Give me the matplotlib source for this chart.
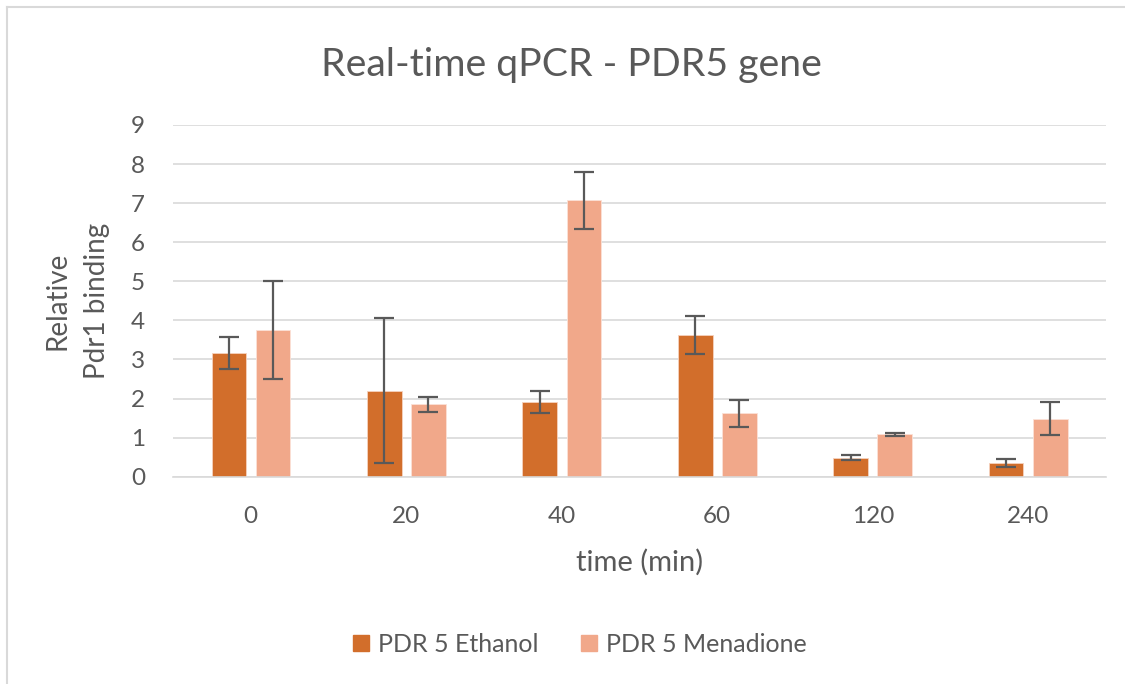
import numpy as np
import matplotlib.pyplot as plt
from matplotlib.patches import Rectangle
from matplotlib.lines import Line2D

plt.rcParams['font.family'] = ['Lato', 'DejaVu Sans']

times = ['0', '20', '40', '60', '120', '240']
ethanol = [3.17, 2.20, 1.92, 3.63, 0.49, 0.34]
ethanol_err = [0.41, 1.85, 0.28, 0.48, 0.07, 0.10]
menadione = [3.75, 1.85, 7.07, 1.62, 1.08, 1.48]
menadione_err = [1.25, 0.20, 0.72, 0.34, 0.03, 0.42]

c_eth = '#D26E2B'
c_men = '#F1A88A'
txt = '#595959'

fig = plt.figure(figsize=(11.25, 6.84), dpi=100)
ax = fig.add_axes([0.1538, 0.3031, 0.8293, 0.5142])

x = np.arange(len(times))
w = 0.222
off = 0.1415
ax.bar(x - off, ethanol, w, color=c_eth, edgecolor='#F6D2BE', linewidth=0.6,
       yerr=ethanol_err, error_kw=dict(ecolor=txt, elinewidth=1.6, capsize=7, capthick=1.6))
ax.bar(x + off, menadione, w, color=c_men, edgecolor='#FBE1D6', linewidth=0.6,
       yerr=menadione_err, error_kw=dict(ecolor=txt, elinewidth=1.6, capsize=7, capthick=1.6))

ax.set_xlim(-0.5, len(times) - 0.5)
ax.set_ylim(0, 9)
ax.set_yticks(range(10))
ax.set_xticks(x)
ax.set_xticklabels(times)
ax.yaxis.grid(True, color='#D9D9D9', linewidth=1.2)
ax.set_axisbelow(True)
for s in ['top', 'right', 'left']:
    ax.spines[s].set_visible(False)
ax.spines['bottom'].set_color('#D9D9D9')
ax.spines['bottom'].set_linewidth(1.2)
ax.tick_params(axis='both', length=0, labelsize=17.5, colors=txt)
ax.tick_params(axis='y', pad=20)
ax.tick_params(axis='x', pad=21)

ax.set_xlabel('time (min)', fontsize=21, color=txt, labelpad=16)
ax.set_ylabel('Relative\nPdr1 binding', fontsize=20, color=txt, labelpad=15, linespacing=1.65)

fig.text(0.508, 0.905, 'Real-time qPCR - PDR5 gene', ha='center', va='center',
         fontsize=28.3, color=txt)

handles = [Rectangle((0, 0), 1, 1, color=c_eth), Rectangle((0, 0), 1, 1, color=c_men)]
fig.legend(handles, ['PDR 5 Ethanol', 'PDR 5 Menadione'], loc='center',
           bbox_to_anchor=(0.515, 0.058), ncol=2, frameon=False, fontsize=18,
           labelcolor=txt, handlelength=0.65, handleheight=0.65, handletextpad=0.35,
           columnspacing=1.7)

# chart area border
fig.add_artist(Line2D([0.0065, 0.0065], [0, 0.99], transform=fig.transFigure,
                      color='#D9D9D9', linewidth=1.5))
fig.add_artist(Line2D([0.0065, 1.0], [0.99, 0.99], transform=fig.transFigure,
                      color='#D9D9D9', linewidth=1.5))

fig.savefig('out.png', dpi=100)
